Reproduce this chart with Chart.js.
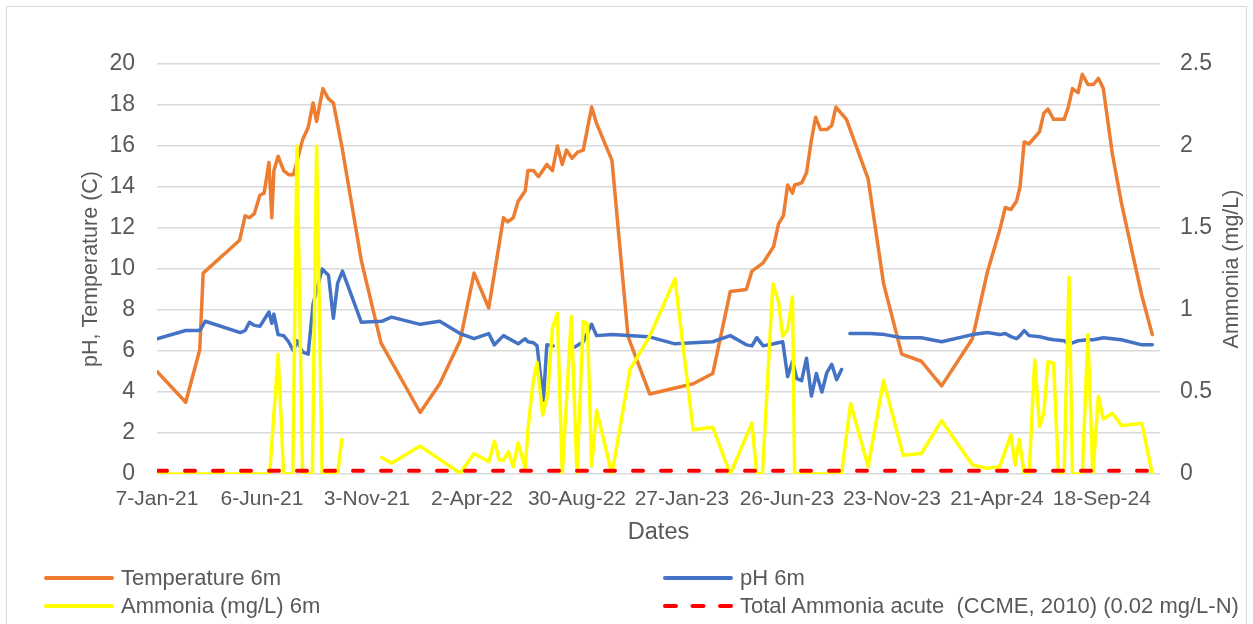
<!DOCTYPE html>
<html>
<head>
<meta charset="utf-8">
<title>Temperature, pH and Ammonia at 6m</title>
<script src="https://cdn.jsdelivr.net/npm/chart.js@4.4.1/dist/chart.umd.min.js"></script>
<style>
  html, body { margin: 0; padding: 0; background: #fff; }
  #wrap { position: relative; width: 1253px; height: 624px; overflow: hidden; font-family: "Liberation Sans", Arial, sans-serif; }
  #frame { position: absolute; left: 6px; top: 6px; width: 1241px; height: 660px; border: 1px solid #D9D9D9; box-sizing: border-box; }
  #chart { position: absolute; left: 0; top: 0; }
  .item { position: absolute; display: flex; align-items: center; transform: translateY(-50%); color: #595959; font-size: 22px; white-space: pre; }
  .item svg { margin-right: 7px; }
</style>
</head>
<body>
<div id="wrap">
  <div id="frame"></div>
  <canvas id="chart" width="1253" height="624"></canvas>
  <div id="legend"></div>
</div>
<script>
// x values are days counted from 7-Jan-21
const tickDays = [0, 150, 300, 450, 600, 750, 900, 1050, 1200, 1350];

const tempDays = [0, 41, 61, 66, 118, 126, 132, 139, 147, 153, 160, 164, 167, 173, 181, 188, 195, 208, 216, 223,
  228, 237, 245, 252, 264, 292, 320, 376, 404, 433, 453, 474, 495, 501, 509, 516, 526, 530, 538, 545,
  557, 565, 572, 579, 585, 593, 601, 609, 621, 628, 650, 673, 704, 766, 794, 819, 842, 850, 866, 881,
  888, 895, 901, 908, 911, 921, 928, 935, 941, 948, 957, 964, 970, 985, 1016, 1038, 1064, 1092, 1121, 1165,
  1186, 1204, 1212, 1220, 1228, 1233, 1239, 1246, 1261, 1267, 1273, 1281, 1296, 1302, 1308, 1316, 1322, 1330, 1338, 1345,
  1352, 1365, 1378, 1407, 1422];
const tempValues = [5.0, 3.5, 6.05, 9.8, 11.4, 12.6, 12.5, 12.7, 13.6, 13.7, 15.2, 12.5, 14.8, 15.5, 14.8, 14.6, 14.6, 16.3, 16.9, 18.1,
  17.2, 18.8, 18.3, 18.1, 16.0, 10.4, 6.4, 3.0, 4.4, 6.5, 9.8, 8.1, 12.5, 12.3, 12.5, 13.3, 13.8, 14.8, 14.8, 14.5,
  15.1, 14.8, 16.0, 15.1, 15.8, 15.4, 15.7, 15.8, 17.9, 17.1, 15.3, 6.7, 3.9, 4.4, 4.9, 8.9, 9.0, 9.9, 10.3, 11.1,
  12.2, 12.6, 14.1, 13.7, 14.1, 14.2, 14.7, 16.3, 17.4, 16.8, 16.8, 17.0, 17.9, 17.3, 14.4, 9.3, 5.85, 5.5, 4.3, 6.6,
  9.8, 11.9, 13.0, 12.9, 13.3, 14.0, 16.2, 16.1, 16.7, 17.6, 17.8, 17.3, 17.3, 17.9, 18.8, 18.6, 19.5, 19.0, 19.0, 19.3,
  18.8, 15.6, 13.2, 8.7, 6.8];

const phDays = [0, 41, 61, 69, 119, 126, 132, 139, 147, 160, 164, 167, 173, 181, 188, 195, 200, 208, 216, 223,
  236, 245, 252, 258, 265, 292, 321, 335, 376, 404, 433, 453, 474, 482, 495, 516, 526, 530, 538, 543,
  552, 557, 566, 572, 597, 609, 621, 628, 650, 702, 740, 766, 794, 819, 842, 850, 857, 866, 881, 894,
  901, 908, 914, 921, 928, 935, 942, 950, 957, 964, 971, 978, 984, 990, 1019, 1040, 1064, 1092, 1121, 1165,
  1186, 1204, 1212, 1220, 1228, 1233, 1239, 1246, 1261, 1267, 1273, 1281, 1296, 1302, 1308, 1316, 1330, 1338, 1352, 1378,
  1407, 1422];
const phValues = [6.6, 7.0, 7.0, 7.45, 6.9, 7.0, 7.4, 7.25, 7.2, 7.9, 7.35, 7.8, 6.8, 6.75, 6.45, 6.0, 6.5, 5.95, 5.85, 8.3,
  10.0, 9.7, 7.6, 9.3, 9.9, 7.4, 7.45, 7.65, 7.3, 7.45, 6.85, 6.6, 6.85, 6.3, 6.75, 6.35, 6.6, 6.45, 6.4, 6.25,
  3.6, 6.3, 6.25, null, 6.2, 6.45, 7.3, 6.75, 6.8, 6.7, 6.35, 6.4, 6.45, 6.75, 6.3, 6.25, 6.65, 6.25, 6.35, 6.45,
  4.75, 5.5, 4.65, 4.55, 5.65, 3.8, 4.9, 4.0, 4.95, 5.35, 4.6, 5.1, null, 6.85, 6.85, 6.8, 6.65, 6.65, 6.45, 6.8,
  6.9, 6.8, 6.85, 6.7, 6.6, 6.75, 7.0, 6.75, 6.7, 6.65, 6.6, 6.55, 6.5, 6.35, 6.4, 6.5, 6.55, 6.55, 6.65, 6.55,
  6.3, 6.3];

const nh3Days = [0, 161, 173, 181, 194, 200, 208, 222, 228, 236, 258, 264, 290, 321, 335, 376, 433, 453, 474, 482,
  489, 495, 502, 509, 516, 526, 530, 537, 543, 551, 558, 565, 572, 579, 592, 600, 609, 615, 621, 628,
  650, 676, 704, 740, 766, 794, 819, 850, 857, 865, 880, 888, 894, 901, 908, 911, 978, 991, 1016, 1038,
  1066, 1092, 1121, 1165, 1186, 1204, 1220, 1226, 1232, 1239, 1246, 1254, 1261, 1267, 1273, 1281, 1288, 1296, 1303, 1308,
  1322, 1330, 1337, 1345, 1352, 1365, 1378, 1407, 1422];
const nh3Values = [0, 0, 0.73, 0, 0, 2.0, 0, 0, 2.0, 0, 0, 0.21, null, 0.10, 0.065, 0.17, 0.005, 0.125, 0.075, 0.2,
  0.085, 0.085, 0.135, 0.045, 0.19, 0.035, 0.27, 0.55, 0.68, 0.36, 0.48, 0.89, 0.98, 0, 0.96, 0, 0.93, 0.915, 0.05, 0.39,
  0, 0.64, 0.84, 1.19, 0.27, 0.285, 0, 0.31, 0, 0, 1.16, 1.05, 0.84, 0.88, 1.08, 0, 0, 0.43, 0.045, 0.57,
  0.115, 0.125, 0.325, 0.055, 0.035, 0.045, 0.24, 0.055, 0.21, 0, 0, 0.695, 0.29, 0.37, 0.685, 0.675, 0, 0, 1.2, 0,
  0, 0.85, 0, 0.475, 0.335, 0.37, 0.295, 0.31, 0];

const limitDays = [0, 1422];
const limitValues = [0.02, 0.02];

const xTitle = 'Dates';
const leftTitle = 'pH, Temperature (C)';
const rightTitle = 'Ammonia (mg/L)';

const months = ['Jan', 'Feb', 'Mar', 'Apr', 'May', 'Jun', 'Jul', 'Aug', 'Sep', 'Oct', 'Nov', 'Dec'];
const start = Date.UTC(2021, 0, 7);
function dayLabel(d) {
    const dt = new Date(start + d * 86400000);
    return dt.getUTCDate() + '-' + months[dt.getUTCMonth()] + '-' + String(dt.getUTCFullYear()).slice(2);
}
function pts(days, vals) {
    return days.map((d, i) => ({ x: d, y: vals[i] }));
}

const grey = '#595959';
const font = '"Liberation Sans", Arial, sans-serif';

const series = [
    { label: 'Temperature 6m', data: pts(tempDays, tempValues), axis: 'y', color: '#ED7D31', dash: [], order: 4 },
    { label: 'pH 6m', data: pts(phDays, phValues), axis: 'y', color: '#4472C4', dash: [], order: 3 },
    { label: 'Ammonia (mg/L) 6m', data: pts(nh3Days, nh3Values), axis: 'y1', color: '#FFFF00', dash: [], order: 2 },
    { label: 'Total Ammonia acute  (CCME, 2010) (0.02 mg/L-N)', data: pts(limitDays, limitValues), axis: 'y1', color: '#FF0000', dash: [10, 18], order: 1 }
];

// axis titles drawn by hand so the right one reads bottom to top like the left one
const axisTitles = {
    id: 'axisTitles',
    afterDraw(chart) {
        const { ctx, chartArea } = chart;
        const midY = (chartArea.top + chartArea.bottom) / 2;
        ctx.save();
        ctx.fillStyle = grey;
        ctx.textAlign = 'center';
        ctx.textBaseline = 'middle';
        ctx.font = '23.5px ' + font;
        ctx.fillText(xTitle, (chartArea.left + chartArea.right) / 2, 533);
        ctx.font = '21.5px ' + font;
        [[91, leftTitle], [1232, rightTitle]].forEach(([x, text]) => {
            ctx.save();
            ctx.translate(x, midY);
            ctx.rotate(-Math.PI / 2);
            ctx.fillText(text, 0, 0);
            ctx.restore();
        });
        ctx.restore();
    }
};

const ctx = document.getElementById('chart').getContext('2d');
const chart = new Chart(ctx, {
    type: 'line',
    data: {
        datasets: series.map(s => ({
            label: s.label,
            data: s.data,
            yAxisID: s.axis,
            borderColor: s.color,
            backgroundColor: s.color,
            borderWidth: s.dash.length ? 4 : 3.5,
            borderDash: s.dash,
            borderCapStyle: 'round',
            borderJoinStyle: 'round',
            pointRadius: 0,
            tension: 0,
            spanGaps: false,
            order: s.order
        }))
    },
    options: {
        responsive: false,
        animation: false,
        devicePixelRatio: 1,
        layout: { padding: { left: 0, right: 0, top: 64, bottom: 0 } },
        plugins: {
            legend: { display: false },
            title: { display: false },
            tooltip: { enabled: false }
        },
        scales: {
            x: {
                type: 'linear',
                min: 0,
                max: 1433,
                grid: { display: false, drawTicks: false },
                border: { display: false },
                afterBuildTicks: scale => { scale.ticks = tickDays.map(v => ({ value: v })); },
                afterFit: scale => { scale.height = 150; },
                ticks: {
                    color: grey,
                    font: { family: font, size: 21 },
                    padding: 13,
                    maxRotation: 0,
                    autoSkip: false,
                    callback: v => dayLabel(v)
                }
            },
            y: {
                position: 'left',
                min: 0,
                max: 20,
                grid: { color: '#D9D9D9', lineWidth: 1.5, drawTicks: false },
                border: { display: false },
                afterFit: scale => { scale.width = 157; },
                ticks: {
                    stepSize: 2,
                    color: grey,
                    font: { family: font, size: 23 },
                    padding: 22
                }
            },
            y1: {
                position: 'right',
                min: 0,
                max: 2.5,
                grid: { display: false, drawTicks: false },
                border: { display: false },
                afterFit: scale => { scale.width = 93; },
                ticks: {
                    stepSize: 0.5,
                    color: grey,
                    font: { family: font, size: 23 },
                    padding: 20,
                    callback: v => String(v)
                }
            }
        }
    },
    plugins: [axisTitles]
});

// legend: two columns, two rows, like the spreadsheet original
const legendPos = [[44, 578], [663, 578], [44, 606], [663, 606]];
const legend = document.getElementById('legend');
series.forEach((s, i) => {
    const item = document.createElement('div');
    item.className = 'item';
    item.style.left = legendPos[i][0] + 'px';
    item.style.top = legendPos[i][1] + 'px';
    const dash = s.dash.length ? ' stroke-dasharray="11 16.5"' : '';
    item.innerHTML = '<svg width="70" height="8"><line x1="2" y1="4" x2="68" y2="4" stroke="' + s.color +
        '" stroke-width="4" stroke-linecap="round"' + dash + '/></svg>';
    const span = document.createElement('span');
    span.textContent = s.label;
    item.appendChild(span);
    legend.appendChild(item);
});
</script>
</body>
</html>
